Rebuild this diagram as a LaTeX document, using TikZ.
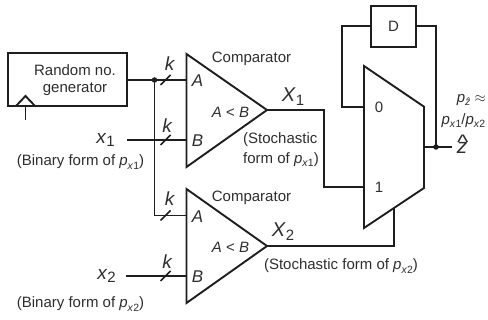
\documentclass[tikz,border=0pt]{standalone}
\usepackage{fontspec}
\setmainfont{Liberation Sans}
\usetikzlibrary{calc}
\definecolor{ink}{HTML}{1E1E1E}
\definecolor{txt}{HTML}{2E2E2E}
\newcommand\fs[1]{\fontsize{#1}{#1}\selectfont}
\newcommand\psub[1]{\textit{p}\raisebox{-0.22em}{\fs{10.5}\textit{x}#1}}
\newcommand\bigsub[3]{\fs{#3}\textit{#1}\raisebox{-0.2em}{\fs{15}#2}}
\newcommand\tallhat[1]{\leavevmode\rlap{\raisebox{0.2em}{\kern.02em\scalebox{1.15}[1]{\^{}}}}\textit{#1}}
\tikzset{
  wire/.style={draw=ink,line width=1.9pt,line join=miter,line cap=butt},
  blockbox/.style={draw=ink,line width=2pt,inner sep=0pt,fill=white},
  lab/.style={text=txt,inner sep=0pt,font=\fs{15}},
  leftlab/.style={lab,anchor=west},
  port/.style={lab,font=\fs{17}\itshape},
  kmark/.style={lab,font=\fs{19}\itshape},
  junction/.style={circle,fill=ink,minimum size=5.5pt,inner sep=0pt},
  busmark/.style={draw=ink,line width=1.6pt}
}
\begin{document}
\begin{tikzpicture}[x=1pt,y=-1pt]
\useasboundingbox (0,0) rectangle (488,320);
% blocks
\node[blockbox,minimum width=119pt,minimum height=53pt] (gen) at (67.5,79.5) {};
\node[lab] (gentext) at (75,70) {Random no.};
\node[lab] (gentextb) at (75,89.5) {generator};
\node[blockbox,minimum width=45pt,minimum height=40.7pt] (dff) at (393.5,26.3) {};
\node[lab] (dtext) at (393.5,26) {D};
% coordinates
\coordinate (clkl) at (16,106); \coordinate (clkt) at (25.5,96); \coordinate (clkr) at (35,106);
\coordinate (clkb) at (25.5,106); \coordinate (clke) at (25.5,120);
\coordinate (c1t) at (186.5,54); \coordinate (c1b) at (186.5,167); \coordinate (c1o) at (267,110);
\coordinate (c2t) at (186.5,189); \coordinate (c2b) at (186.5,303); \coordinate (c2o) at (267,246);
\coordinate (m1) at (364,66); \coordinate (m2) at (424,106.7); \coordinate (m3) at (424,188); \coordinate (m4) at (364,228);
\coordinate (c1a) at (186.5,80); \coordinate (c1bi) at (186.5,140);
\coordinate (c2a) at (186.5,215.5); \coordinate (c2bi) at (186.5,276);
\coordinate (m0in) at (364,107); \coordinate (m1in) at (364,187); \coordinate (m2in) at (394,208);
\coordinate (mout) at (424,147); \coordinate (zend) at (451.7,147);
\coordinate (x1s) at (127,140); \coordinate (x2s) at (126,276);
\node[junction] (j1) at (154.5,80) {};
\node[junction] (j2) at (436,147) {};
% shapes
\draw[wire] (clkl) -- (clkt) -- (clkr);
\draw[wire] (clkb) -- (clke);
\draw[wire] (c1t) -- (c1o) -- (c1b) -- cycle;
\draw[wire] (c2t) -- (c2o) -- (c2b) -- cycle;
\draw[wire] (m1) -- (m2) -- (m3) -- (m4) -- cycle;
% connectors
\draw[wire] (gen.east |- c1a) -- (c1a);
\draw[wire] (j1.center) |- (c2a);
\draw[wire] (x1s) -- (c1bi);
\draw[wire] (x2s) -- (c2bi);
\draw[wire] (c1o) -| (324,187) -- (m1in);
\draw[wire] (c2o) -| (m2in);
\draw[wire] (m0in) -| (341.7,26) -- (dff.west |- 341.7,26);
\draw[wire] (dff.east |- 0,26) -| (j2.center);
\draw[wire] (mout) -- (zend);
% bus marks
\foreach \n/\y in {a/80,b/140,c/215.5,d/276}{
  \draw[busmark] (160.5,\y+5) -- (170.5,\y-5);
}
% labels
\node[kmark] (k1) at (169.5,63.5) {k};
\node[kmark] (k2) at (167,126) {k};
\node[kmark] (k3) at (169.5,199) {k};
\node[kmark] (k4) at (167,262) {k};
\node[port] (pa1) at (197.5,81) {A};
\node[port] (pb1) at (197.5,140.5) {B};
\node[port] (pa2) at (197.5,217) {A};
\node[port] (pb2) at (197.5,276.5) {B};
\node[lab] (cmp1) at (251.5,59) {Comparator};
\node[lab] (cmp2) at (251.5,198) {Comparator};
\node[lab] (lt1) at (230.5,112) {\textit{A} < \textit{B}};
\node[lab] (lt2) at (230.5,247.5) {\textit{A} < \textit{B}};
\node[lab] (x1) at (105.5,140) {\bigsub{x}{1}{19}};
\node[lab] (x2) at (106.5,276) {\bigsub{x}{2}{19}};
\node[lab] (bx1) at (80.5,162) {(Binary form of \psub{1})};
\node[lab] (bx2) at (80.5,304) {(Binary form of \psub{2})};
\node[lab] (sx1) at (293,97) {\bigsub{X}{1}{20}};
\node[lab] (sx2) at (283,232) {\bigsub{X}{2}{20}};
\node[leftlab] (st1a) at (243,140) {(Stochastic};
\node[leftlab] (st1b) at (243,159.5) {form of \psub{1})};
\node[lab] (st2) at (341,266) {(Stochastic form of \psub{2})};
\node[lab] (zero) at (379,107) {0};
\node[lab] (one) at (379,187.5) {1};
\node[lab,anchor=east] (pz) at (486,100) {\textit{p}\raisebox{-0.22em}{\fs{10.5}\textit{\^z}} \(\approx\)};
\node[lab,anchor=east] (ratio) at (485.5,120.5) {\psub{1}/\psub{2}};
\node[lab,anchor=base] (zhat) at (462,153.5) {\fs{21}\tallhat{z}};
\end{tikzpicture}
\end{document}
